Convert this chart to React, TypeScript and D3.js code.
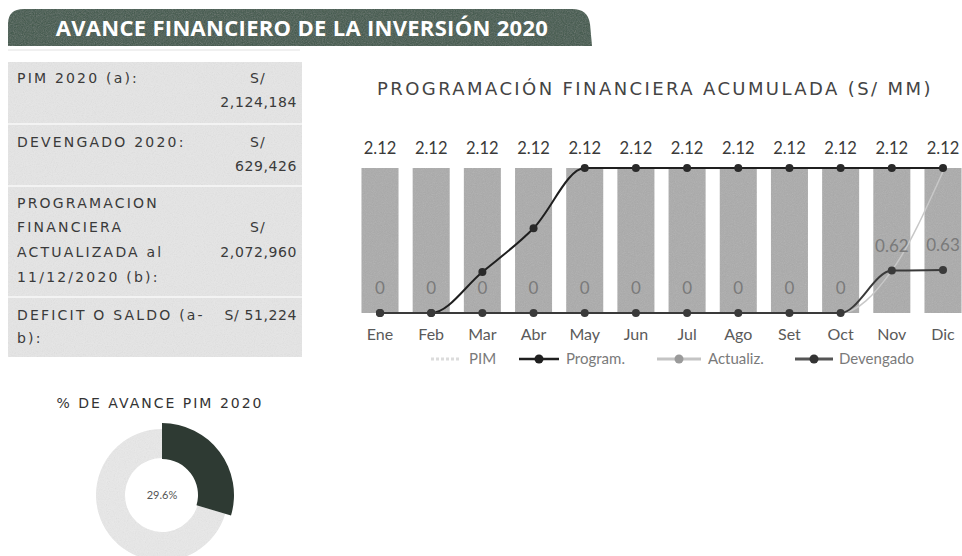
import React from 'react';
import * as d3 from 'd3';

const months = ['Ene', 'Feb', 'Mar', 'Abr', 'May', 'Jun', 'Jul', 'Ago', 'Set', 'Oct', 'Nov', 'Dic'];
const pim = [2.12, 2.12, 2.12, 2.12, 2.12, 2.12, 2.12, 2.12, 2.12, 2.12, 2.12, 2.12];
const program = [0, 0, 0.6, 1.24, 2.12, 2.12, 2.12, 2.12, 2.12, 2.12, 2.12, 2.12];
const actualiz = [0, 0, 0, 0, 0, 0, 0, 0, 0, 0, 0.62, 2.07];
const devengado = [0, 0, 0, 0, 0, 0, 0, 0, 0, 0, 0.62, 0.63];
const avance = [29.6, 70.4];

const panelRows = [
  { lines: ['PIM 2020 (a):'], cur: 'S/', amount: '2,124,184' },
  { lines: ['DEVENGADO 2020:'], cur: 'S/', amount: '629,426' },
  { lines: ['PROGRAMACION', 'FINANCIERA', 'ACTUALIZADA al', '11/12/2020 (b):'], cur: 'S/', amount: '2,072,960' },
  { lines: ['DEFICIT O SALDO (a-', 'b):'], cur: '', amount: 'S/ 51,224' },
];

const legendItems = ['PIM', 'Program.', 'Actualiz.', 'Devengado'];

const GEO = "'DejaVu Sans', 'Open Sans', sans-serif";
const BANNER = "'Open Sans', 'DejaVu Sans', sans-serif";
const LATO = "Lato, 'Open Sans', sans-serif";

export default function App() {
  const x = d3.scalePoint<string>().domain(months).range([380, 943]);
  const y = d3.scaleLinear().domain([0, 2.12]).range([313, 168]);
  const barW = 37;

  const lineGen = d3
    .line<number>()
    .x((_, i) => x(months[i]) as number)
    .y((d) => y(d))
    .curve(d3.curveMonotoneX);

  const pie = d3.pie<number>().sort(null)(avance);
  const arcDark = d3.arc<d3.PieArcDatum<number>>().innerRadius(36).outerRadius(72);
  const arcLight = d3.arc<d3.PieArcDatum<number>>().innerRadius(37).outerRadius(66);

  const rowLayout = [
    { ys: [83], curY: 83, amtY: 107 },
    { ys: [147], curY: 147, amtY: 171 },
    { ys: [208, 232, 257, 282], curY: 232, amtY: 257 },
    { ys: [320, 343], curY: 320, amtY: 320 },
  ];

  const legY = 359;

  return (
    <svg
      width={962}
      height={556}
      style={{ position: 'absolute', left: 0, top: 0, background: '#fff' }}
      xmlns="http://www.w3.org/2000/svg"
    >
      <defs>
        <filter id="noise" x="0" y="0" width="100%" height="100%">
          <feTurbulence type="fractalNoise" baseFrequency="0.9" numOctaves="2" result="n" />
          <feColorMatrix type="saturate" values="0" in="n" result="g" />
          <feComponentTransfer in="g" result="g2">
            <feFuncA type="linear" slope="0.2" />
          </feComponentTransfer>
          <feComposite in="g2" in2="SourceGraphic" operator="in" result="c" />
          <feMerge>
            <feMergeNode in="SourceGraphic" />
            <feMergeNode in="c" />
          </feMerge>
        </filter>
      </defs>

      {/* Banner */}
      <path
        d="M8,46 L8,24 Q8,9 24,9 L572,9 Q588,9 590,24 L592,46 Z"
        fill="#3e5648"
        filter="url(#noise)"
      />
      <line x1={8} y1={50} x2={300} y2={50} stroke="#e2e2e2" strokeWidth={1} />
      <text
        x={302}
        y={36}
        textAnchor="middle"
        fill="#fff"
        fontFamily={BANNER}
        fontWeight={700}
        fontSize={22}
        letterSpacing={0.3}
      >
        AVANCE FINANCIERO DE LA INVERSIÓN 2020
      </text>

      {/* Left panel */}
      <rect x={8} y={62} width={294} height={295} fill="#e6e6e6" filter="url(#noise)" />
      {[124, 186, 297].map((yy) => (
        <line key={yy} x1={8} x2={302} y1={yy} y2={yy} stroke="#f3f3f3" strokeWidth={2} />
      ))}
      {panelRows.map((r, i) => {
        const L = rowLayout[i];
        return (
          <g key={i} fontFamily={GEO} fontSize={14} fill="#3a3a3a">
            {r.lines.map((t, j) => (
              <text key={j} x={17} y={L.ys[j]} letterSpacing={2.2}>
                {t}
              </text>
            ))}
            {r.cur && (
              <text x={250} y={L.curY} letterSpacing={1}>
                {r.cur}
              </text>
            )}
            <text x={297} y={L.amtY} textAnchor="end" letterSpacing={0.6}>
              {r.amount}
            </text>
          </g>
        );
      })}

      {/* Donut */}
      <text x={160} y={408} textAnchor="middle" fontFamily={GEO} fontSize={14} fill="#333" letterSpacing={2}>
        % DE AVANCE PIM 2020
      </text>
      <g transform="translate(162,495)">
        <path d={arcLight(pie[1]) as string} fill="#e9e9e9" filter="url(#noise)" />
        <path d={arcDark(pie[0]) as string} fill="#2e3a33" />
        <text x={0} y={4} textAnchor="middle" fontFamily={LATO} fontSize={11} fill="#555">
          {avance[0]}%
        </text>
      </g>

      {/* Chart title */}
      <text
        x={655}
        y={95}
        textAnchor="middle"
        fontFamily={GEO}
        fontSize={18}
        fill="#444"
        letterSpacing={2.4}
      >
        PROGRAMACIÓN FINANCIERA ACUMULADA (S/ MM)
      </text>

      {/* Bars */}
      {pim.map((v, i) => (
        <g key={months[i]}>
          <rect
            x={(x(months[i]) as number) - barW / 2}
            y={y(v)}
            width={barW}
            height={y(0) - y(v)}
            fill="#ababab"
            filter="url(#noise)"
          />
          <text
            x={x(months[i]) as number}
            y={154}
            textAnchor="middle"
            fontFamily={LATO}
            fontSize={16.5}
            fill="#3a3a3a"
          >
            {v.toFixed(2)}
          </text>
        </g>
      ))}

      {/* Actualiz line */}
      <path d={lineGen(actualiz) as string} fill="none" stroke="#c8c8c8" strokeWidth={1.5} />

      {/* Program line */}
      <path d={lineGen(program) as string} fill="none" stroke="#1f1f1f" strokeWidth={2} />
      {program.map((v, i) => (
        <circle key={'p' + i} cx={x(months[i]) as number} cy={y(v)} r={4} fill="#2a2a2a" />
      ))}

      {/* Devengado line */}
      <path d={lineGen(devengado) as string} fill="none" stroke="#3a3a3a" strokeWidth={2} />
      {devengado.map((v, i) => (
        <circle key={'d' + i} cx={x(months[i]) as number} cy={y(v)} r={4} fill="#3a3a3a" />
      ))}
      {devengado.map((v, i) => (
        <text
          key={'dl' + i}
          x={x(months[i]) as number}
          y={y(v) - 19}
          textAnchor="middle"
          fontFamily={LATO}
          fontSize={17}
          fill="#7a7a7a"
        >
          {v === 0 ? '0' : v.toFixed(2)}
        </text>
      ))}

      {/* X axis labels */}
      {months.map((m) => (
        <text
          key={'x' + m}
          x={x(m) as number}
          y={340}
          textAnchor="middle"
          fontFamily={LATO}
          fontSize={16}
          fill="#5a5a5a"
        >
          {m}
        </text>
      ))}

      {/* Legend */}
      <g fontFamily={LATO} fontSize={15} fill="#7a7a7a">
        <g transform={`translate(431,${legY})`}>
          <line x1={0} x2={30} y1={0} y2={0} stroke="#dcdcdc" strokeWidth={3} strokeDasharray="3,2" />
          <text x={38} y={5}>{legendItems[0]}</text>
        </g>
        <g transform={`translate(519,${legY})`}>
          <line x1={0} x2={40} y1={0} y2={0} stroke="#1f1f1f" strokeWidth={2.5} />
          <circle cx={20} cy={0} r={4.5} fill="#1f1f1f" />
          <text x={47} y={5}>{legendItems[1]}</text>
        </g>
        <g transform={`translate(657,${legY})`}>
          <line x1={0} x2={44} y1={0} y2={0} stroke="#c4c4c4" strokeWidth={3} />
          <circle cx={22} cy={0} r={4.5} fill="#9a9a9a" />
          <text x={51} y={5}>{legendItems[2]}</text>
        </g>
        <g transform={`translate(795,${legY})`}>
          <line x1={0} x2={38} y1={0} y2={0} stroke="#555" strokeWidth={3} />
          <circle cx={19} cy={0} r={4.5} fill="#333" />
          <text x={44} y={5}>{legendItems[3]}</text>
        </g>
      </g>
    </svg>
  );
}
